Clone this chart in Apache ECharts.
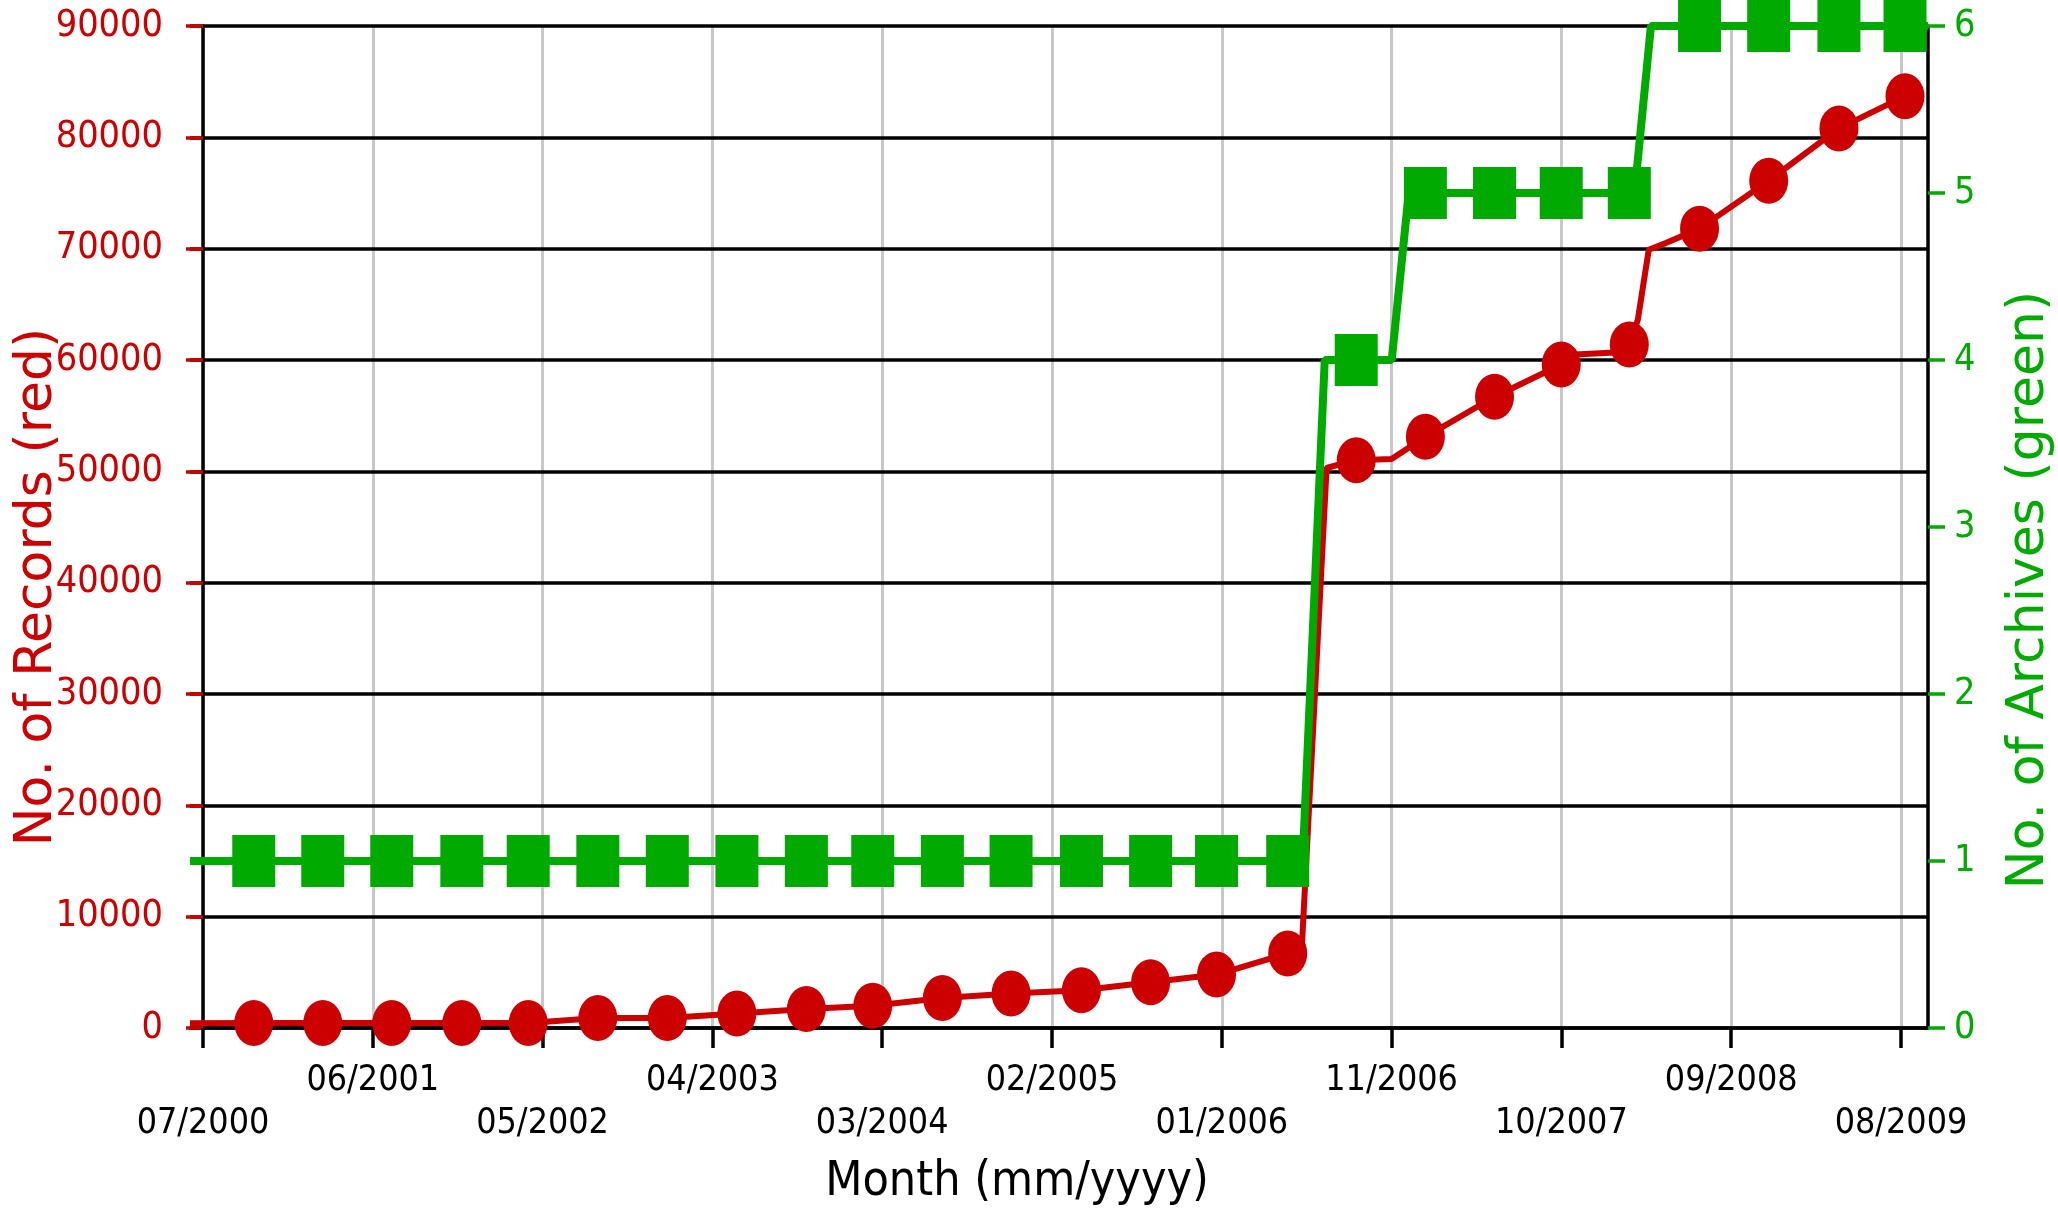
<!DOCTYPE html>
<html>
<head>
<meta charset="utf-8">
<script src="https://cdn.jsdelivr.net/npm/echarts@6/dist/echarts.min.js"></script>
<style>
html,body{margin:0;padding:0;background:#fff;}
#chart{width:2058px;height:1212px;}
</style>
</head>
<body>
<div id="chart"></div>
<script>
// Tick labels on the month axis (every 11th month) and their positions (month index)
const tickLabels = ['07/2000','06/2001','05/2002','04/2003','03/2004','02/2005','01/2006','11/2006','10/2007','09/2008','08/2009'];
const tickPos = [0, 11, 22, 33, 44, 55, 66, 77, 88, 99, 110];

// Marker positions (month index) and values
const markerPos = [3.29, 7.76, 12.23, 16.77, 21.07, 25.58, 30.08, 34.59, 39.09, 43.39, 47.90, 52.35, 56.91, 61.39, 65.66, 70.27, 74.71, 79.19, 83.67, 87.99, 92.40, 96.95, 101.43, 105.98, 110.26];
const records = [450, 450, 450, 450, 450, 900, 900, 1300, 1700, 2000, 2700, 3100, 3400, 4100, 4800, 6700, 51000, 53100, 56700, 59600, 61400, 71800, 76100, 80800, 83700];
const archives = [1, 1, 1, 1, 1, 1, 1, 1, 1, 1, 1, 1, 1, 1, 1, 1, 4, 5, 5, 5, 5, 6, 6, 6, 6];

// Additional line vertices between markers (month index, value)
const recordsExtra = [[-0.84, 420], [71.17, 6800], [72.79, 50300], [73.8, 50700], [77.0, 51100], [88.9, 60500], [91.8, 60700], [92.95, 63600], [93.66, 69900], [94.76, 70500]];
const archivesExtra = [[-0.84, 1], [71.24, 1], [72.67, 4], [77.01, 4], [78.11, 5], [92.74, 5], [93.8, 6], [111.75, 6]];

const RED = '#cc0000';
const GREEN = '#00aa00';
const WIDE = "'DejaVu Sans',sans-serif";

// ---- font selection: prefer a narrow sans face ----
const mctx = document.createElement('canvas').getContext('2d');
function widthOf(font, s) { mctx.font = font; return mctx.measureText(s).width; }
function hasFont(fam) {
  const s = 'mmmmmmmmmmlli0123456789/WwQ';
  return widthOf('40px monospace', s) !== widthOf('40px "' + fam + '", monospace', s) ||
         widthOf('40px serif', s) !== widthOf('40px "' + fam + '", serif', s);
}
let NARROW = "'Liberation Sans',sans-serif";
let isNarrow = false;
for (const c of ['DejaVu Sans Condensed', 'Liberation Sans Narrow', 'Arial Narrow']) {
  if (hasFont(c)) { NARROW = "'" + c + "',sans-serif"; isNarrow = true; break; }
}
const ySize = isNarrow ? 37.5 : 36;
const xSize = isNarrow ? 35.5 : 34;
const tSize = isNarrow ? 48 : 46;

function buildPath(xs, ys, extra) {
  const pts = xs.map((x, i) => [x, ys[i]]).concat(extra);
  pts.sort((a, b) => a[0] - b[0]);
  return pts;
}
const recordsPath = buildPath(markerPos, records, recordsExtra);
const archivesPath = buildPath(markerPos, archives, archivesExtra);
const recordsPts = markerPos.map((x, i) => [x, records[i]]);
const archivesPts = markerPos.map((x, i) => [x, archives[i]]);

const chart = echarts.init(document.getElementById('chart'), null, {renderer: 'canvas'});
chart.setOption({
  animation: false,
  backgroundColor: '#fff',
  grid: {left: 190, right: 130, top: 26, bottom: 184, containLabel: false, outerBoundsMode: 'none'},
  xAxis: {
    type: 'value',
    min: -0.84,
    max: 111.75,
    name: 'Month (mm/yyyy)',
    nameLocation: 'middle',
    nameGap: 131,
    nameMoveOverlap: false,
    nameTextStyle: {color: '#000', fontSize: tSize, fontFamily: NARROW, padding: [0, 84, 0, 0]},
    axisLine: {show: true, onZero: false, lineStyle: {color: '#000', width: 3.5}},
    axisTick: {show: true, customValues: tickPos, length: 20, lineStyle: {color: '#000', width: 3.5}},
    axisLabel: {
      show: true,
      customValues: tickPos,
      margin: 31,
      color: '#000',
      fontSize: xSize,
      fontFamily: NARROW,
      lineHeight: 43,
      formatter: function (v) {
        const i = tickPos.indexOf(Math.round(v));
        if (i < 0) return '';
        return (i % 2 === 0) ? '\n' + tickLabels[i] : tickLabels[i];
      }
    },
    splitLine: {show: false}
  },
  yAxis: [
    {
      type: 'value',
      position: 'left',
      min: 0, max: 90000, interval: 10000,
      name: 'No. of Records (red)',
      nameLocation: 'middle',
      nameRotate: 90,
      nameGap: 127,
      nameMoveOverlap: false,
      nameTextStyle: {color: RED, fontSize: 52, fontFamily: WIDE, padding: [0, 120, 0, 0]},
      axisLine: {show: true, lineStyle: {color: '#000', width: 3.5}},
      axisTick: {show: true, length: 17, lineStyle: {color: RED, width: 3.5}},
      axisLabel: {color: RED, fontSize: ySize, fontFamily: NARROW, margin: 27, formatter: v => String(v)},
      splitLine: {show: true, lineStyle: {color: '#000', width: 3.5}}
    },
    {
      type: 'value',
      position: 'right',
      min: 0, max: 6, interval: 1,
      name: 'No. of Archives (green)',
      nameLocation: 'middle',
      nameRotate: 90,
      nameGap: 75,
      nameMoveOverlap: false,
      nameTextStyle: {color: GREEN, fontSize: 52, fontFamily: WIDE, padding: [0, 126, 0, 0]},
      axisLine: {show: true, lineStyle: {color: '#000', width: 3.5}},
      axisTick: {show: true, length: 17, lineStyle: {color: GREEN, width: 3.5}},
      axisLabel: {color: GREEN, fontSize: ySize, fontFamily: NARROW, margin: 26, formatter: v => String(v)},
      splitLine: {show: false}
    }
  ],
  series: [
    {
      type: 'line',
      yAxisIndex: 0,
      data: recordsPath,
      showSymbol: false,
      symbol: 'none',
      lineStyle: {color: RED, width: 6},
      z: 2,
      markLine: {
        silent: true,
        z: -1,
        symbol: ['none', 'none'],
        label: {show: false},
        emphasis: {disabled: true},
        lineStyle: {color: '#c8c8c8', width: 3, type: 'solid'},
        data: tickPos.map(v => ({xAxis: v}))
      }
    },
    {
      type: 'scatter',
      yAxisIndex: 0,
      data: recordsPts,
      symbol: 'circle',
      symbolSize: [39, 46],
      itemStyle: {color: RED, opacity: 1},
      z: 3
    },
    {
      type: 'line',
      yAxisIndex: 1,
      data: archivesPath,
      showSymbol: false,
      symbol: 'none',
      lineStyle: {color: GREEN, width: 8},
      z: 4
    },
    {
      type: 'scatter',
      yAxisIndex: 1,
      data: archivesPts,
      symbol: 'rect',
      symbolSize: [43, 52],
      itemStyle: {color: GREEN, opacity: 1},
      z: 5
    }
  ]
});
</script>
</body>
</html>
